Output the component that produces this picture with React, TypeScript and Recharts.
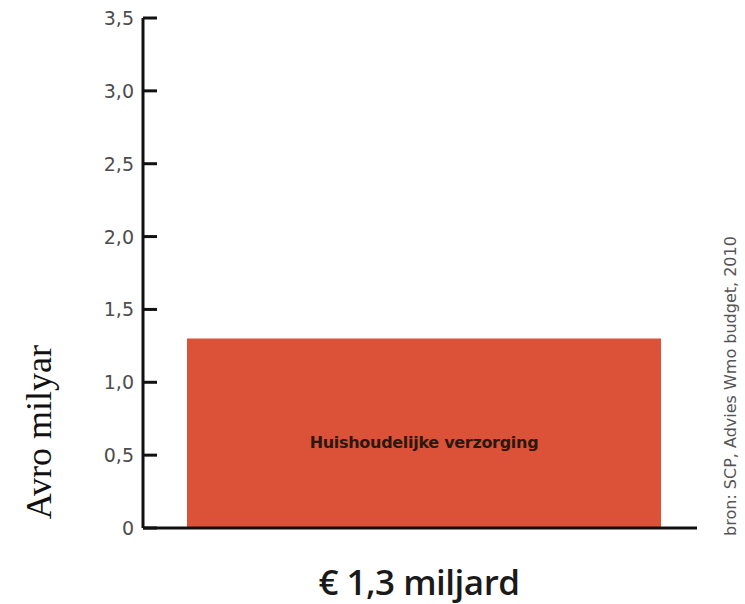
import { BarChart, Bar, XAxis, YAxis, LabelList } from "recharts";

// one bar: category label under the axis, series name inside the bar
const categories = ["€ 1,3 miljard"];
const seriesNames = ["Huishoudelijke verzorging"];
const values = [1.3];
const yTicks = [0, 0.5, 1, 1.5, 2, 2.5, 3, 3.5];

const yTitle = "Avro milyar";
const sourceNote = "bron: SCP, Advies Wmo budget, 2010";

const data = categories.map((c, i) => ({ category: c, name: seriesNames[i], value: values[i] }));

const fmt = (v: number) => (v === 0 ? "0" : v.toFixed(1).replace(".", ","));

function YTick(props: any) {
  const { x, y, payload } = props;
  return (
    <text
      x={x}
      y={y}
      dy={7}
      textAnchor="end"
      fontFamily="DejaVu Sans"
      fontSize={19}
      fill="#4d4d4d"
    >
      {fmt(payload.value)}
    </text>
  );
}

function XTick(props: any) {
  const { x, y, payload } = props;
  return (
    <text
      x={x - 5}
      y={y + 65}
      textAnchor="middle"
      fontFamily="Open Sans"
      fontWeight={600}
      fontSize={35}
      letterSpacing={-0.5}
      fill="#1a1a1a"
    >
      {payload.value}
    </text>
  );
}

function BarName(props: any) {
  const { x, y, width, height, value } = props;
  return (
    <text
      x={x + width / 2}
      y={y + height / 2}
      dy={15}
      textAnchor="middle"
      fontFamily="DejaVu Sans"
      fontWeight="bold"
      fontSize={16}
      letterSpacing={-0.3}
      fill="#2b1810"
    >
      {value}
    </text>
  );
}

function YTitle(props: any) {
  const vb = props.viewBox || { x: 0, y: 18, width: 143, height: 510 };
  const cx = vb.x + 51;
  const cy = vb.y + vb.height * 0.812;
  return (
    <text
      x={cx}
      y={cy}
      transform={`rotate(-90, ${cx}, ${cy})`}
      textAnchor="middle"
      fontFamily="Liberation Serif"
      fontSize={36}
      fill="#111"
    >
      {yTitle}
    </text>
  );
}

export default function App() {
  return (
    <div style={{ position: "absolute", left: 0, top: 0, width: 745, height: 604, background: "#fff" }}>
      <BarChart
        width={745}
        height={604}
        data={data}
        margin={{ top: 18, right: 48, left: 0, bottom: 0 }}
        barCategoryGap={36}
      >
        <XAxis
          dataKey="category"
          height={76}
          padding={{ left: 8, right: 0 }}
          axisLine={{ stroke: "#111", strokeWidth: 3 }}
          tickLine={false}
          tickSize={0}
          tick={<XTick />}
        />
        {/* negative tickSize turns the tick marks inward, as in the source */}
        <YAxis
          width={143}
          domain={[0, 3.5]}
          ticks={yTicks}
          interval={0}
          axisLine={{ stroke: "#111", strokeWidth: 3 }}
          tickLine={{ stroke: "#111", strokeWidth: 3 }}
          tickSize={-14}
          tickMargin={23}
          tick={<YTick />}
          label={{ content: (p: any) => <YTitle {...p} /> }}
        />
        <Bar dataKey="value" fill="#db5239" isAnimationActive={false}>
          <LabelList dataKey="name" content={(p: any) => <BarName {...p} />} />
        </Bar>
      </BarChart>
      <svg
        width={745}
        height={604}
        style={{ position: "absolute", left: 0, top: 0, pointerEvents: "none" }}
      >
        <text
          x={736}
          y={386}
          transform="rotate(-90, 736, 386)"
          textAnchor="middle"
          fontFamily="DejaVu Sans"
          fontSize={16}
          fill="#555"
        >
          {sourceNote}
        </text>
      </svg>
    </div>
  );
}
